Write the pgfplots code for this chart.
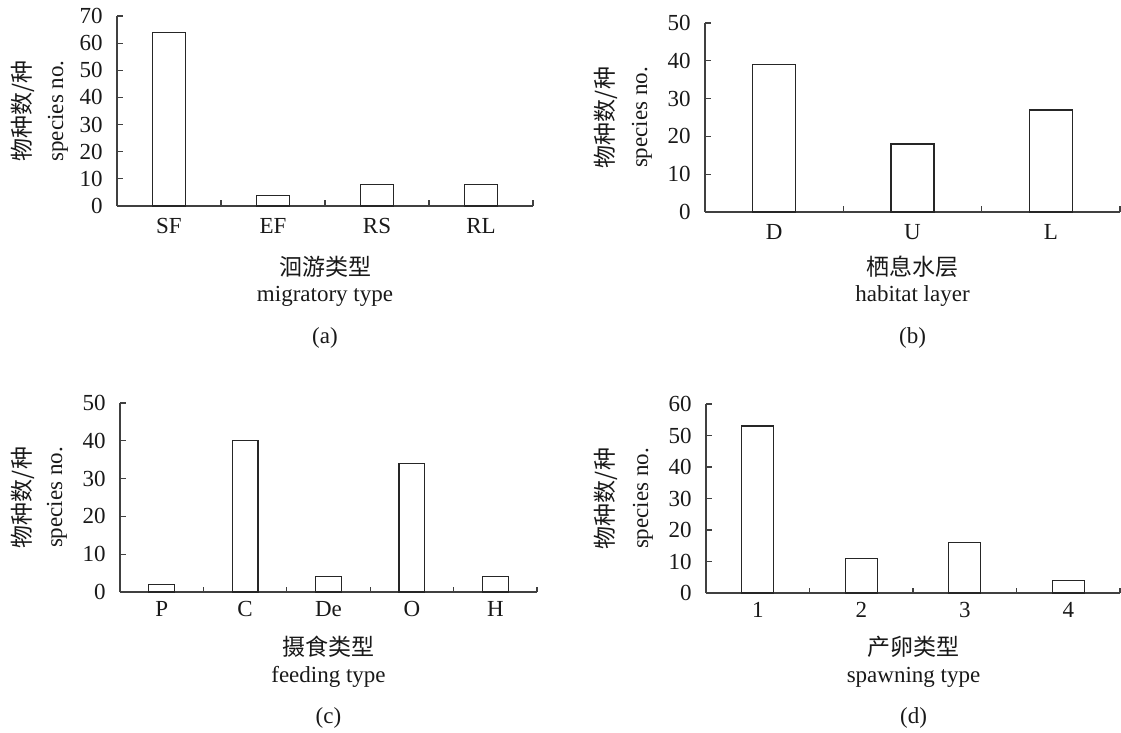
\documentclass[border=0pt]{standalone}
\usepackage{pgfplots}
\pgfplotsset{compat=1.18}
\usepackage{fontspec}
\setmainfont{Liberation Serif}
\newfontfamily\cjk{Noto Sans CJK SC}

\pgfplotsset{
 panel/.style={
   scale only axis, anchor=south west,
   axis x line=bottom, axis y line=left,
   axis line style={-, draw=black!75, line width=1.1pt},
   xtick align=inside, ytick align=inside,
   major tick length=5.5pt,
   tick style={draw=black!75, line width=1.1pt},
   ymin=0, enlargelimits=false,
   ybar, bar width=0.31,
   /pgf/number format/assume math mode=true,
   yticklabel style={xshift=-6.5pt},
   clip=false,
 },
 barstyle/.style={draw=black!85, fill=white, line width=1.2pt}
}

\begin{document}
\fontsize{23}{28}\selectfont
\color{black!90}
\begin{tikzpicture}
\useasboundingbox (0,0) rectangle (1121pt,732pt);
% (a)
\begin{axis}[panel, at={(117pt,526pt)}, width=416pt, height=190pt,
  xmin=-0.5, xmax=3.5, ymax=70, ytick={0,10,...,70},
  xtick={0.5,1.5,2.5,3.5}, xticklabels={SF,EF,RS,RL},
  xticklabel style={yshift=-4.7pt, xshift=-52pt},
  xtick align=inside, ytick align=inside]
\addplot[barstyle] coordinates {(0,64) (1,4) (2,8) (3,8)};
\end{axis}
% (b)
\begin{axis}[panel, at={(705pt,520pt)}, width=415pt, height=189pt,
  xmin=-0.5, xmax=2.5, ymax=50, ytick={0,10,...,50},
  xtick={0.5,1.5,2.5}, xticklabels={D,U,L},
  xticklabel style={yshift=-4.7pt, xshift=-69.2pt},
  xtick align=inside, ytick align=inside]
\addplot[barstyle] coordinates {(0,39) (1,18) (2,27)};
\end{axis}
% (c)
\begin{axis}[panel, at={(120pt,140pt)}, width=417pt, height=189pt,
  xmin=-0.5, xmax=4.5, ymax=50, ytick={0,10,...,50},
  xtick={0.5,1.5,2.5,3.5,4.5}, xticklabels={P,C,De,O,H},
  xticklabel style={yshift=-1.2pt, xshift=-41.7pt},
  xtick align=inside, ytick align=inside]
\addplot[barstyle] coordinates {(0,2) (1,40) (2,4) (3,34) (4,4)};
\end{axis}
% (d)
\begin{axis}[panel, at={(706pt,139pt)}, width=414pt, height=189pt,
  xmin=-0.5, xmax=3.5, ymax=60, ytick={0,10,...,60},
  xtick={0.5,1.5,2.5,3.5}, xticklabels={1,2,3,4},
  xticklabel style={yshift=-1.2pt, xshift=-51.75pt},
  xtick align=inside, ytick align=inside]
\addplot[barstyle] coordinates {(0,53) (1,11) (2,16) (3,4)};
\end{axis}

% y labels
\node[rotate=90, font=\cjk] at (23pt,621pt) {物种数/种};
\node[rotate=90, anchor=base] at (63pt,621pt) {species no.};
\node[rotate=90, font=\cjk] at (606pt,614.5pt) {物种数/种};
\node[rotate=90, anchor=base] at (647pt,614.5pt) {species no.};
\node[rotate=90, font=\cjk] at (23pt,234.5pt) {物种数/种};
\node[rotate=90, anchor=base] at (62pt,234.5pt) {species no.};
\node[rotate=90, font=\cjk] at (606pt,233.5pt) {物种数/种};
\node[rotate=90, anchor=base] at (648pt,233.5pt) {species no.};

% x labels and captions
\node[font=\cjk] at (325pt,465pt) {洄游类型};
\node[anchor=base] at (325pt,430pt) {migratory type};
\node[anchor=base] at (325pt,389pt) {(a)};
\node[font=\cjk] at (912.5pt,465pt) {栖息水层};
\node[anchor=base] at (912.5pt,430pt) {habitat layer};
\node[anchor=base] at (912.5pt,389pt) {(b)};
\node[font=\cjk] at (328.5pt,85pt) {摄食类型};
\node[anchor=base] at (328.5pt,50pt) {feeding type};
\node[anchor=base] at (328.5pt,9pt) {(c)};
\node[font=\cjk] at (913.5pt,85pt) {产卵类型};
\node[anchor=base] at (913.5pt,50pt) {spawning type};
\node[anchor=base] at (913.5pt,9pt) {(d)};
\end{tikzpicture}
\end{document}
